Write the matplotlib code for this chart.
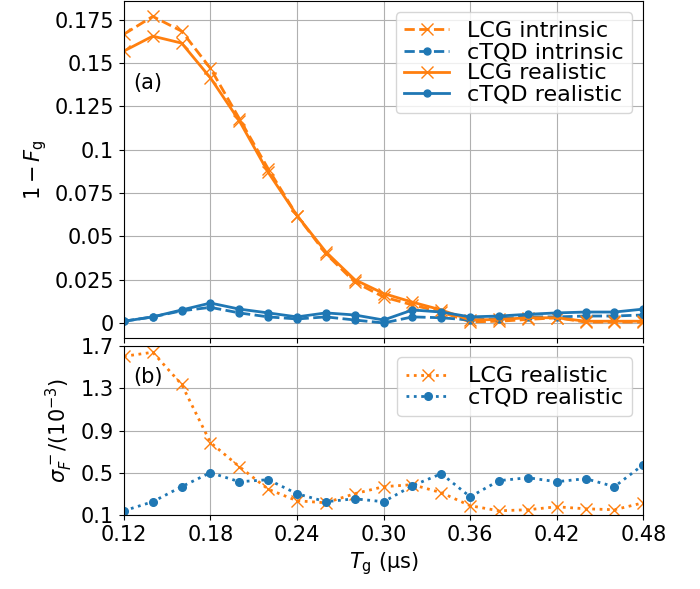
import numpy as np
import matplotlib
matplotlib.use("Agg")
import matplotlib.pyplot as plt

# gate times (us)
Tg = [0.12, 0.14, 0.16, 0.18, 0.20, 0.22, 0.24, 0.26, 0.28, 0.30,
      0.32, 0.34, 0.36, 0.38, 0.40, 0.42, 0.44, 0.46, 0.48]

# infidelity 1 - F_g
lcg_intr = [0.1667, 0.177, 0.1685, 0.147, 0.118, 0.089, 0.062, 0.040, 0.0236, 0.015,
            0.0104, 0.0063, 0.0006, 0.001, 0.002, 0.003, 0.0005, 0.0005, 0.0005]
ctqd_intr = [0.001, 0.0035, 0.007, 0.009, 0.0058, 0.0035, 0.0023, 0.0035, 0.0017, 0.0,
             0.0035, 0.003, 0.0017, 0.0025, 0.0035, 0.0035, 0.004, 0.004, 0.0046]
lcg_real = [0.157, 0.1656, 0.1616, 0.1415, 0.1167, 0.087, 0.062, 0.041, 0.025, 0.017,
            0.012, 0.0075, 0.0017, 0.002, 0.003, 0.003, 0.001, 0.001, 0.001]
ctqd_real = [0.001, 0.0035, 0.0075, 0.0115, 0.008, 0.0058, 0.0035, 0.0058, 0.0046, 0.0017,
             0.0075, 0.0063, 0.0035, 0.004, 0.005, 0.0058, 0.0063, 0.0063, 0.008]

# standard deviation sigma_F^- in units of 1e-3
sig_lcg = [1.605, 1.643, 1.338, 0.786, 0.557, 0.343, 0.233, 0.214, 0.30, 0.367,
           0.386, 0.31, 0.186, 0.138, 0.148, 0.176, 0.157, 0.148, 0.214]
sig_ctqd = [0.138, 0.224, 0.367, 0.50, 0.414, 0.433, 0.30, 0.224, 0.252, 0.224,
            0.376, 0.49, 0.271, 0.424, 0.452, 0.414, 0.443, 0.367, 0.576]

xticks = [0.12, 0.18, 0.24, 0.30, 0.36, 0.42, 0.48]
top_yticks = [0, 0.025, 0.05, 0.075, 0.1, 0.125, 0.15, 0.175]
bot_yticks = [0.1, 0.5, 0.9, 1.3, 1.7]

plt.rcParams['font.size'] = 15
plt.rcParams['lines.linewidth'] = 2

fig, (ax1, ax2) = plt.subplots(2, 1, figsize=(7, 5.89), dpi=100, sharex=True,
                               gridspec_kw={'height_ratios': [2, 1], 'hspace': 0.032})
fig.subplots_adjust(left=0.177, right=0.919, top=0.998, bottom=0.126)

ax1.plot(Tg, lcg_intr, color='C1', ls='--', marker='x', ms=9, label='LCG intrinsic')
ax1.plot(Tg, ctqd_intr, color='C0', ls='--', marker='.', ms=10, label='cTQD intrinsic')
ax1.plot(Tg, lcg_real, color='C1', ls='-', marker='x', ms=9, label='LCG realistic')
ax1.plot(Tg, ctqd_real, color='C0', ls='-', marker='.', ms=10, label='cTQD realistic')
ax1.set_ylim(-0.0088, 0.1858)
ax1.set_yticks(top_yticks)
ax1.set_yticklabels(['%g' % t for t in top_yticks])
ax1.set_ylabel(r'$1-F_\mathrm{g}$')
ax1.grid(True, color='#b0b0b0')
ax1.text(0.018, 0.757, '(a)', transform=ax1.transAxes, va='center')
ax1.legend(loc='upper right', fontsize=16, labelspacing=0.05)
ax1.tick_params(labelbottom=False)

ax2.plot(Tg, sig_lcg, color='C1', ls=':', marker='x', ms=9, label='LCG realistic')
ax2.plot(Tg, sig_ctqd, color='C0', ls=':', marker='.', ms=11, label='cTQD realistic')
ax2.set_ylim(0.1, 1.7)
ax2.set_yticks(bot_yticks)
ax2.set_yticklabels(['%g' % t for t in bot_yticks])
ax2.set_ylabel(r'$\sigma_F^-/(10^{-3})$')
ax2.grid(True, color='#b0b0b0')
ax2.text(0.018, 0.82, '(b)', transform=ax2.transAxes, va='center')
ax2.legend(loc='upper right', fontsize=16, labelspacing=0.05)

ax2.set_xlim(0.12, 0.48)
ax2.set_xticks(xticks)
ax2.set_xticklabels(['%.2f' % t for t in xticks])
ax2.set_xlabel(r'$T_\mathrm{g}$ (μs)')

fig.savefig('out.png', dpi=100)
